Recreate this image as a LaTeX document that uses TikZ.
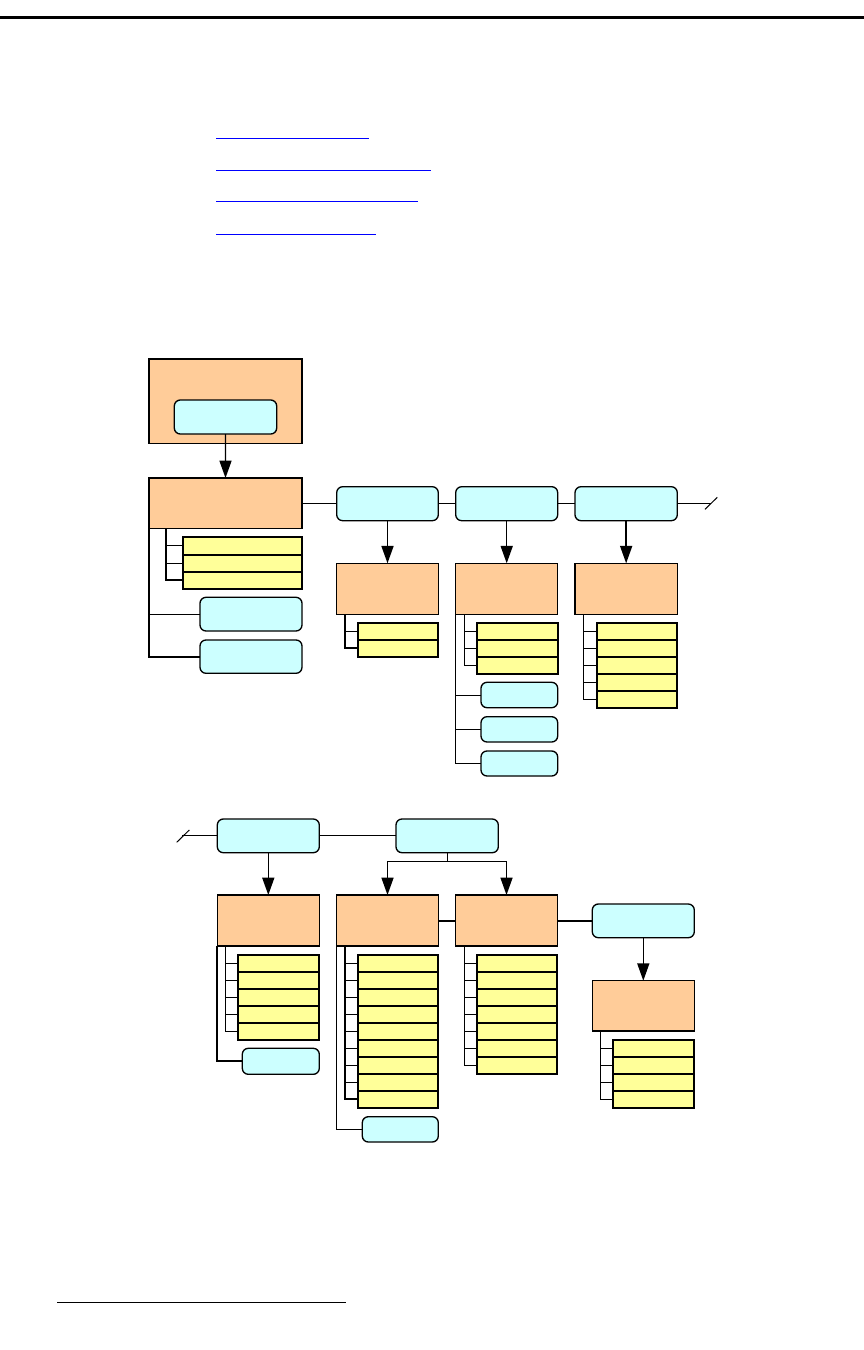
\documentclass[tikz,border=0pt]{standalone}
\usetikzlibrary{arrows.meta}
\definecolor{orng}{HTML}{FFCC99}
\definecolor{cyanb}{HTML}{CCFFFF}
\definecolor{yel}{HTML}{FFFF99}
\definecolor{linkblue}{HTML}{0000FF}
\tikzset{
  base/.style={inner sep=0pt, outer sep=0pt, anchor=north west},
  obox/.style={base, draw, fill=orng, line width=1.1pt},
  cbox/.style={base, draw, fill=cyanb, line width=1.0pt, rounded corners=4.5pt},
  ybox/.style={base, draw, fill=yel, line width=1.5pt},
  thin/.style={line width=0.75pt},
  thick2/.style={line width=1.5pt},
  arr/.style={line width=1.1pt, -{Triangle[length=13pt,width=9pt]}},
}
\newcommand\bx[6]{\node[#1, minimum width={(#5-#3)*0.75pt}, minimum height={(#6-#4)*0.75pt}] (#2) at (#3,#4) {};}
\newcommand\rows[6]{%
  \foreach \i in {1,...,#2} {
    \pgfmathsetmacro\ya{#4+(\i-1)*#6}
    \pgfmathsetmacro\yb{#4+\i*#6}
    \node[ybox, minimum width={(#5-#3)*0.75pt}, minimum height={(\yb-\ya)*0.75pt}] (#1\i) at (#3,\ya) {};
  }}
\begin{document}
\begin{tikzpicture}[x=0.75pt,y=-0.75pt]
\useasboundingbox (0,0) rectangle (864,1350);
% header / footer rules
\coordinate (hl) at (0,17.5); \coordinate (hr) at (864,17.5);
\draw[line width=1.6pt] (hl) -- (hr);
\coordinate (fl) at (57.3,1302.3); \coordinate (fr) at (345.7,1302.3);
\draw[thin] (fl) -- (fr);
% link underlines
\foreach \y/\xe [count=\k] in {138.3/369, 170.3/430.7, 201.3/418, 234.3/375.7} {
  \coordinate (ls\k) at (216,\y); \coordinate (le\k) at (\xe,\y);
  \draw[linkblue, line width=0.9pt] (ls\k) -- (le\k);
}
% ---------------- upper part ----------------
\bx{obox}{T}{149}{359}{302}{443.5}
\bx{cbox}{Tb}{174.3}{400}{276.7}{434}
\bx{obox}{M}{149}{478}{302}{528.3}
\rows{m}{3}{182.7}{537.3}{302}{17.2}
\bx{cbox}{Mb1}{200}{597.3}{302}{631}
\bx{cbox}{Mb2}{200}{640}{302}{673.3}
\draw[arr] (Tb.south) -- (M.north);
\coordinate (Mt) at ([xshift=12.5pt]M.south west);
\draw[thick2] (Mt) |- (m3.west);
\foreach \i in {1,2} \draw[thin] (m\i.west) -- (m\i.west -| Mt);
\draw[thick2] (M.south west) |- (Mb2.west);
\draw[thin] (Mb1.west) -- (Mb1.west -| M.south west);

\bx{cbox}{A}{336.7}{486.7}{438.3}{520.7}
\bx{cbox}{B}{455.7}{486.7}{557.7}{520.7}
\bx{cbox}{C}{575}{486.7}{677.3}{520.7}
\bx{obox}{AO}{336.7}{563.3}{438.3}{614.3}
\bx{obox}{BO}{455.7}{563.3}{557.7}{614.3}
\bx{obox}{CO}{575}{563.3}{677.3}{614.3}
\draw[thin] (M.east) -- (M.east -| A.west);
\draw[thin] (A.east) -- (B.west);
\draw[thin] (B.east) -- (C.west);
\coordinate (Cend) at (711,503.7);
\draw[thin] (C.east) -- (Cend);
\coordinate (s1a) at (705,509.3); \coordinate (s1b) at (717.3,497.3);
\draw[thin] (s1a) -- (s1b);
\draw[arr] (A.south) -- (AO.north);
\draw[arr] (B.south) -- (BO.north);
\draw[arr] (C.south) -- (CO.north);

\rows{a}{2}{357.7}{622.7}{438.3}{17.15}
\coordinate (At) at ([xshift=6.2pt]AO.south west);
\draw[thick2] (At) |- (a2.west);
\draw[thin] (a1.west) -- (a1.west -| At);

\rows{b}{3}{476.7}{622.7}{557.7}{17.0}
\coordinate (Bt) at ([xshift=6.4pt]BO.south west);
\draw[thin] (Bt) |- (b3.west);
\foreach \i in {1,2} \draw[thin] (b\i.west) -- (b\i.west -| Bt);
\bx{cbox}{Bb1}{481}{682.3}{557.7}{707.7}
\bx{cbox}{Bb2}{481}{716.7}{557.7}{742}
\bx{cbox}{Bb3}{481}{751}{557.7}{776}
\draw[thin] (BO.south west) |- (Bb3.west);
\foreach \i in {1,2} \draw[thin] (Bb\i.west) -- (Bb\i.west -| BO.south west);

\rows{c}{5}{596.7}{622.7}{677.3}{17.06}
\coordinate (Ct) at ([xshift=6.5pt]CO.south west);
\draw[thin] (Ct) |- (c5.west);
\foreach \i in {1,...,4} \draw[thin] (c\i.west) -- (c\i.west -| Ct);

% ---------------- lower part ----------------
\bx{cbox}{D}{217.3}{819}{319.3}{852.7}
\bx{cbox}{E}{396}{819}{498.3}{852.7}
\coordinate (s2a) at (176.7,842.3); \coordinate (s2b) at (189.3,830);
\draw[thin] (s2a) -- (s2b);
\coordinate (Dst) at (182,835.85);
\draw[thin] (Dst) -- (D.west);
\draw[thin] (D.east) -- (E.west);

\bx{obox}{F}{217.3}{895}{319.3}{946}
\bx{obox}{G}{336.7}{895}{438.3}{946}
\bx{obox}{H}{455.7}{895}{557.3}{946}
\bx{cbox}{I}{592.3}{904}{694.3}{937.7}
\bx{obox}{J}{592.3}{980.7}{694.3}{1031}
\draw[arr] (D.south) -- (F.north);
\coordinate (Ej) at (447.3,861);
\coordinate (Gj) at (G.north |- Ej);
\coordinate (Hj) at (H.north |- Ej);
\draw[thin] (E.south -| Ej) -- (Ej);
\draw[thin] (Gj) -- (Hj);
\draw[arr] (Gj) -- (G.north);
\draw[arr] (Hj) -- (H.north);
\draw[thick2] (G.east) -- (H.west);
\draw[thick2] (H.east) -- (H.east -| I.west);
\draw[arr] (I.south) -- (J.north);

\rows{f}{5}{238.3}{954.7}{319.3}{17.06}
\coordinate (Ft) at ([xshift=6.3pt]F.south west);
\draw[thin] (Ft) |- (f5.west);
\foreach \i in {1,...,4} \draw[thin] (f\i.west) -- (f\i.west -| Ft);
\bx{cbox}{Fb}{242.3}{1048.3}{319.3}{1074.3}
\draw[thick2] (F.south west) |- (Fb.west);

\rows{g}{9}{357.7}{954.7}{438.3}{17.0}
\coordinate (Gt) at ([xshift=6.2pt]G.south west);
\draw[thick2] (Gt) |- (g9.west);
\foreach \i in {1,...,8} \draw[thin] (g\i.west) -- (g\i.west -| Gt);
\bx{cbox}{Gb}{362.3}{1116.7}{438.3}{1142}
\draw[thin] (G.south west) |- (Gb.west);

\rows{h}{7}{476.7}{954.7}{557.3}{17.04}
\coordinate (Ht) at ([xshift=6.4pt]H.south west);
\draw[thin] (Ht) |- (h7.west);
\foreach \i in {1,...,6} \draw[thin] (h\i.west) -- (h\i.west -| Ht);

\rows{j}{4}{613.3}{1040}{694.3}{16.93}
\coordinate (Jt) at ([xshift=6.3pt]J.south west);
\draw[thin] (Jt) |- (j4.west);
\foreach \i in {1,...,3} \draw[thin] (j\i.west) -- (j\i.west -| Jt);
\end{tikzpicture}
\end{document}
